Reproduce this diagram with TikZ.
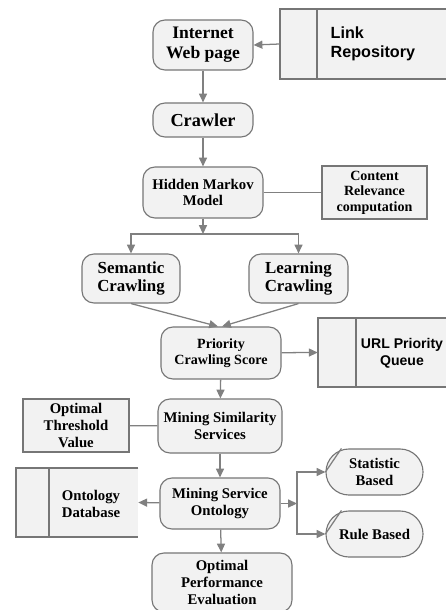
\documentclass[tikz,border=0pt]{standalone}
\usepackage{fontspec}
\setmainfont{Liberation Serif}
\setsansfont{Liberation Sans}
\usepackage{tikz}
\definecolor{boxfill}{RGB}{242, 242, 242}
\definecolor{edgegray}{RGB}{118, 118, 118}
\definecolor{linegray}{RGB}{128, 128, 128}
\usetikzlibrary{arrows.meta,positioning,calc}

\begin{document}
\begin{tikzpicture}[
    x=0.025cm, y=-0.025cm,
    proc/.style={
        rectangle,
        rounded corners=0.3cm,
        draw=edgegray,
        fill=boxfill,
        line width=0.8pt,
        inner sep=1pt,
        align=center,
        font=\fontsize{10.5}{12}\selectfont\bfseries
    },
    bigtext/.style args={#1/#2}{font=\fontsize{#1}{#2}\selectfont\bfseries},
    plainbox/.style={proc, rounded corners=0pt},
    pill/.style={proc, rounded corners=0.575cm, minimum width=2.425cm, minimum height=1.15cm},
    store/.style={rectangle, fill=boxfill, draw=none, minimum height=1.725cm},
    storetext/.style={align=left, font=\fontsize{11.5}{13.5}\selectfont\sffamily\bfseries},
    storeline/.style={edgegray, line width=1.2pt},
    link/.style={linegray, line width=0.9pt},
    arrow/.style={-{Triangle[length=2.2mm,width=2mm]}, linegray, line width=0.9pt}
]
    \useasboundingbox (0,0) rectangle (446,610);

    % Main flow
    \node[proc, bigtext=12.5/14, minimum width=2.5cm, minimum height=1.25cm] (web) at (203,45) {Internet\\Web page};
    \node[proc, bigtext=13/14, minimum width=2.5cm, minimum height=0.85cm] (crawler) at (203,120) {Crawler};
    \node[proc, minimum width=3cm, minimum height=1.275cm] (hmm) at (203,192.5) {Hidden Markov\\Model};
    \node[proc, bigtext=12/13.5, minimum width=2.45cm, minimum height=1.225cm] (semantic) at (131,278.5) {Semantic\\Crawling};
    \node[proc, bigtext=12/13.5, minimum width=2.475cm, minimum height=1.225cm] (learning) at (298.5,278.5) {Learning\\Crawling};
    \node[proc, bigtext=10/11.5, minimum width=3cm, minimum height=1.3cm] (priority) at (221,353) {Priority\\Crawling Score};
    \node[proc, minimum width=3.1cm, minimum height=1.35cm] (mss) at (220,426) {Mining Similarity\\Services};
    \node[proc, minimum width=3cm, minimum height=1.275cm] (mso) at (220,503.5) {Mining Service\\Ontology};
    \node[proc, minimum width=3.5cm, minimum height=1.475cm] (ope) at (222,582.5) {Optimal\\Performance\\Evaluation};

    % Side boxes
    \node[plainbox, bigtext=10/11, minimum width=2.625cm, minimum height=1.325cm] (relevance) at (374.5,192.5) {Content\\Relevance\\computation};
    \node[plainbox, minimum width=2.65cm, minimum height=1.325cm] (threshold) at (76,425.5) {Optimal\\Threshold\\Value};
    \node[pill] (statistic) at (374.5,472) {Statistic\\Based};
    \node[pill] (rule) at (374.5,534) {Rule Based};
    \draw[link] (statistic.west) -- ([xshift=0.4cm]statistic.north west);
    \draw[link] (rule.west) -- ([xshift=0.4cm]rule.north west);

    % Data stores
    \node[store, minimum width=4.5cm] (repo) at (370,44) {};
    \node[storetext, anchor=west] at ([xshift=1.15cm]repo.west) {Link\\Repository};
    \draw[storeline] (repo.north east) -- (repo.north west) -- (repo.south west) -- (repo.south east);
    \draw[storeline] ([xshift=0.925cm]repo.north west) -- ([xshift=0.925cm]repo.south west);

    \node[store, minimum width=3.8cm] (urlq) at (394,352.5) {};
    \node[storetext, align=center, font=\fontsize{10}{12}\selectfont\sffamily\bfseries] at (402,353) {URL Priority\\Queue};
    \draw[storeline] (urlq.north east) -- (urlq.north west) -- (urlq.south west) -- (urlq.south east);
    \draw[storeline] ([xshift=0.95cm]urlq.north west) -- ([xshift=0.95cm]urlq.south west);

    \node[store, minimum width=3.05cm] (ontodb) at (77,502.5) {};
    \node[proc, draw=none, fill=none] at (91,504) {Ontology\\Database};
    \draw[storeline] (ontodb.north east) -- (ontodb.north west) -- (ontodb.south west) -- (ontodb.south east);
    \draw[storeline] ([xshift=0.825cm]ontodb.north west) -- ([xshift=0.825cm]ontodb.south west);

    % Arrows
    \coordinate (split) at (203,234);
    \coordinate (fork) at (297,503.5);
    \draw[arrow] (repo.west) -- (web.east);
    \draw[arrow] (web) -- (crawler);
    \draw[arrow] (crawler) -- (hmm);
    \draw[link] (hmm) -- (relevance);
    \draw[arrow] (hmm) -- (split);
    \draw[arrow] (split) -| (semantic.north);
    \draw[arrow] (split) -| (learning.north);
    \draw[arrow] (semantic.south) -- ([xshift=-0.075cm]priority.north);
    \draw[arrow] (learning.south) -- ([xshift=0.025cm]priority.north);
    \draw[arrow] (priority) -- (urlq.west);
    \draw[arrow] (priority) -- (mss);
    \draw[link] (threshold) -- (mss);
    \draw[arrow] (mss) -- (mso);
    \draw[arrow] (mso) -- (ontodb.east);
    \draw[arrow] (mso) -- (fork);
    \draw[arrow] (fork) |- (statistic.west);
    \draw[arrow] (fork) |- (rule.west);
    \draw[arrow] (mso) -- (ope);
\end{tikzpicture}
\end{document}
